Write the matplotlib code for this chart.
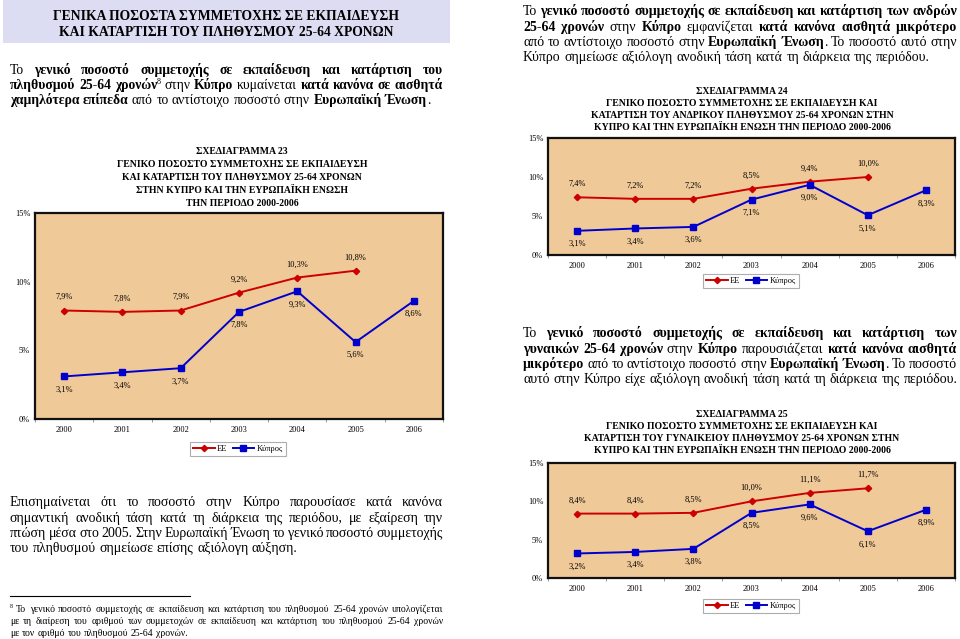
import matplotlib
matplotlib.use('Agg')
import matplotlib.pyplot as plt
from matplotlib.lines import Line2D
from matplotlib.patches import Rectangle

# ---------------- data ----------------
years = ['2000', '2001', '2002', '2003', '2004', '2005', '2006']
eu_total = [7.9, 7.8, 7.9, 9.2, 10.3, 10.8]
cy_total = [3.1, 3.4, 3.7, 7.8, 9.3, 5.6, 8.6]
eu_men = [7.4, 7.2, 7.2, 8.5, 9.4, 10.0]
cy_men = [3.1, 3.4, 3.6, 7.1, 9.0, 5.1, 8.3]
eu_women = [8.4, 8.4, 8.5, 10.0, 11.1, 11.7]
cy_women = [3.2, 3.4, 3.8, 8.5, 9.6, 6.1, 8.9]
yticks = [0, 5, 10, 15]
ytick_labels = ['0%', '5%', '10%', '15%']
legend_labels = ['ΕΕ', 'Κύπρος']

header_lines = ['ΓΕΝΙΚΑ ΠΟΣΟΣΤΑ ΣΥΜΜΕΤΟΧΗΣ ΣΕ ΕΚΠΑΙΔΕΥΣΗ',
                'ΚΑΙ ΚΑΤΑΡΤΙΣΗ ΤΟΥ ΠΛΗΘΥΣΜΟΥ 25-64 ΧΡΟΝΩΝ']
title23 = ['ΣΧΕΔΙΑΓΡΑΜΜΑ 23',
           'ΓΕΝΙΚΟ ΠΟΣΟΣΤΟ ΣΥΜΜΕΤΟΧΗΣ ΣΕ ΕΚΠΑΙΔΕΥΣΗ',
           'ΚΑΙ ΚΑΤΑΡΤΙΣΗ ΤΟΥ ΠΛΗΘΥΣΜΟΥ 25-64 ΧΡΟΝΩΝ',
           'ΣΤΗΝ ΚΥΠΡΟ ΚΑΙ ΤΗΝ ΕΥΡΩΠΑΪΚΗ ΕΝΩΣΗ',
           'ΤΗΝ ΠΕΡΙΟΔΟ 2000-2006']
title24 = ['ΣΧΕΔΙΑΓΡΑΜΜΑ 24',
           'ΓΕΝΙΚΟ ΠΟΣΟΣΤΟ ΣΥΜΜΕΤΟΧΗΣ ΣΕ ΕΚΠΑΙΔΕΥΣΗ ΚΑΙ',
           'ΚΑΤΑΡΤΙΣΗ ΤΟΥ ΑΝΔΡΙΚΟΥ ΠΛΗΘΥΣΜΟΥ 25-64 ΧΡΟΝΩΝ ΣΤΗΝ',
           'ΚΥΠΡΟ ΚΑΙ ΤΗΝ ΕΥΡΩΠΑΪΚΗ ΕΝΩΣΗ ΤΗΝ ΠΕΡΙΟΔΟ 2000-2006']
title25 = ['ΣΧΕΔΙΑΓΡΑΜΜΑ 25',
           'ΓΕΝΙΚΟ ΠΟΣΟΣΤΟ ΣΥΜΜΕΤΟΧΗΣ ΣΕ ΕΚΠΑΙΔΕΥΣΗ ΚΑΙ',
           'ΚΑΤΑΡΤΙΣΗ ΤΟΥ ΓΥΝΑΙΚΕΙΟΥ ΠΛΗΘΥΣΜΟΥ 25-64 ΧΡΟΝΩΝ ΣΤΗΝ',
           'ΚΥΠΡΟ ΚΑΙ ΤΗΝ ΕΥΡΩΠΑΪΚΗ ΕΝΩΣΗ ΤΗΝ ΠΕΡΙΟΔΟ 2000-2006']

para_left1 = [
    [('Το ', 'r'), ('γενικό ποσοστό συμμετοχής σε εκπαίδευση και κατάρτιση του', 'b')],
    [('πληθυσμού 25-64 χρονών', 'b'), ('8', 's'), (' στην ', 'r'), ('Κύπρο', 'b'),
     (' κυμαίνεται ', 'r'), ('κατά κανόνα σε αισθητά', 'b')],
    [('χαμηλότερα επίπεδα', 'b'), (' από το αντίστοιχο ποσοστό στην ', 'r'),
     ('Ευρωπαϊκή Ένωση', 'b'), ('.', 'r')],
]
para_left2 = [
    [('Επισημαίνεται ότι το ποσοστό στην Κύπρο παρουσίασε κατά κανόνα', 'r')],
    [('σημαντική ανοδική τάση κατά τη διάρκεια της περιόδου, με εξαίρεση την', 'r')],
    [('πτώση μέσα στο 2005. Στην Ευρωπαϊκή Ένωση το γενικό ποσοστό συμμετοχής', 'r')],
    [('του πληθυσμού σημείωσε επίσης αξιόλογη αύξηση.', 'r')],
]
footnote = [
    [('8', 's'), (' Το γενικό ποσοστό συμμετοχής σε εκπαίδευση και κατάρτιση του πληθυσμού 25-64 χρονών υπολογίζεται', 'r')],
    [('με τη διαίρεση του αριθμού των συμμετοχών σε εκπαίδευση και κατάρτιση του πληθυσμού 25-64 χρονών', 'r')],
    [('με τον αριθμό του πληθυσμού 25-64 χρονών.', 'r')],
]
para_right1 = [
    [('Το ', 'r'), ('γενικό ποσοστό συμμετοχής σε εκπαίδευση και κατάρτιση των ανδρών', 'b')],
    [('25-64 χρονών', 'b'), (' στην ', 'r'), ('Κύπρο', 'b'), (' εμφανίζεται ', 'r'),
     ('κατά κανόνα αισθητά μικρότερο', 'b')],
    [('από το αντίστοιχο ποσοστό στην ', 'r'), ('Ευρωπαϊκή Ένωση', 'b'),
     ('. Το ποσοστό αυτό στην', 'r')],
    [('Κύπρο σημείωσε αξιόλογη ανοδική τάση κατά τη διάρκεια της περιόδου.', 'r')],
]
para_right2 = [
    [('Το ', 'r'), ('γενικό ποσοστό συμμετοχής σε εκπαίδευση και κατάρτιση των', 'b')],
    [('γυναικών 25-64 χρονών', 'b'), (' στην ', 'r'), ('Κύπρο', 'b'), (' παρουσιάζεται ', 'r'),
     ('κατά κανόνα αισθητά', 'b')],
    [('μικρότερο', 'b'), (' από το αντίστοιχο ποσοστό στην ', 'r'), ('Ευρωπαϊκή Ένωση', 'b'),
     ('. Το ποσοστό', 'r')],
    [('αυτό στην Κύπρο είχε αξιόλογη ανοδική τάση κατά τη διάρκεια της περιόδου.', 'r')],
]

# ---------------- setup ----------------
W, H = 960, 639
plt.rcParams['font.family'] = ['Liberation Serif', 'DejaVu Serif']
fig = plt.figure(figsize=(W / 100, H / 100), dpi=100)
fig.patch.set_facecolor('white')
renderer = fig.canvas.get_renderer()

TAN = '#F0C998'
RED = '#CC0000'
BLUE = '#0000CC'


def fx(x):
    return x / W


def fy(y):
    return 1 - y / H


def measure(txt, size, weight='normal'):
    t = fig.text(0, 0, txt, fontsize=size, fontweight=weight)
    w = t.get_window_extent(renderer).width
    t.remove()
    return w


def parse(segs):
    words = []
    glue = False
    for text, sty in segs:
        parts = text.split(' ')
        for i, p in enumerate(parts):
            if i == 0 and glue and words:
                if p:
                    words[-1].append((p, sty))
            else:
                if p:
                    words.append([(p, sty)])
        glue = not text.endswith(' ')
    return words


def run_props(sty, size):
    if sty == 'b':
        return size, 'bold', 0.0
    if sty == 's':
        return size * 0.6, 'normal', size * 0.4 * 100 / 72
    return size, 'normal', 0.0


def draw_para(lines, x0, x1, baselines, size, justify_last=False):
    space = measure('a a', size) - measure('aa', size)
    for li, (segs, base) in enumerate(zip(lines, baselines)):
        words = parse(segs)
        widths = []
        for w in words:
            tot = 0
            for txt, sty in w:
                s, wt, _ = run_props(sty, size)
                tot += measure(txt, s, wt)
            widths.append(tot)
        last = (li == len(lines) - 1)
        if (not last or justify_last) and len(words) > 1:
            gap = (x1 - x0 - sum(widths)) / (len(words) - 1)
        else:
            gap = space
        x = x0
        for w in words:
            for txt, sty in w:
                s, wt, rise = run_props(sty, size)
                fig.text(fx(x), fy(base - rise), txt, fontsize=s, fontweight=wt,
                         ha='left', va='baseline', color='black')
                x += measure(txt, s, wt)
            x += gap


def draw_centered(lines, cx, baselines, size, weight='bold'):
    for txt, b in zip(lines, baselines):
        fig.text(fx(cx), fy(b), txt, fontsize=size, fontweight=weight,
                 ha='center', va='baseline', color='black')


def fmt(v):
    return ('%.1f%%' % v).replace('.', ',')


def draw_chart(box, eu, cy, legend_center):
    l, t, r, b = box
    ax = fig.add_axes([fx(l), fy(b), (r - l) / W, (b - t) / H])
    ax.set_facecolor(TAN)
    x_eu = list(range(len(eu)))
    x_cy = list(range(len(cy)))
    ax.plot(x_eu, eu, color=RED, lw=1.4, marker='D', ms=3.2, mec=RED, mfc=RED, zorder=3)
    ax.plot(x_cy, cy, color=BLUE, lw=1.4, marker='s', ms=4.8, mec=BLUE, mfc=BLUE, zorder=3)
    for xi, v in zip(x_eu, eu):
        ax.annotate(fmt(v), (xi, v), xytext=(0, 9.5), textcoords='offset points',
                    ha='center', va='center', fontsize=6)
    for xi, v in zip(x_cy, cy):
        ax.annotate(fmt(v), (xi, v), xytext=(0, -9.5), textcoords='offset points',
                    ha='center', va='center', fontsize=6)
    ax.set_xlim(-0.5, len(years) - 0.5)
    ax.set_ylim(0, 15)
    ax.set_yticks(yticks)
    ax.set_yticklabels(ytick_labels)
    ax.set_xticks(range(len(years)))
    ax.set_xticklabels(years)
    ax.set_xticks([i - 0.5 for i in range(len(years) + 1)], minor=True)
    ax.tick_params(axis='both', which='major', length=0, labelsize=6)
    ax.tick_params(axis='y', pad=3.5)
    ax.tick_params(axis='x', pad=5)
    ax.tick_params(axis='x', which='minor', length=2.5, color='#888888', width=0.6)
    ax.tick_params(axis='y', which='minor', length=0)
    for sp in ax.spines.values():
        sp.set_linewidth(1.6)
        sp.set_color('#111111')
    handles = [Line2D([], [], color=RED, lw=1.4, marker='D', ms=3.2),
               Line2D([], [], color=BLUE, lw=1.4, marker='s', ms=4.8)]
    leg = fig.legend(handles, legend_labels, loc='center',
                     bbox_to_anchor=(fx(legend_center[0]), fy(legend_center[1])),
                     ncol=2, fontsize=6, frameon=True, fancybox=False,
                     edgecolor='#9a9a9a', handlelength=2.6, handletextpad=0.3,
                     columnspacing=0.6, borderpad=0.35)
    leg.get_frame().set_linewidth(0.8)
    return ax


# ---------------- left column ----------------
fig.patches.append(Rectangle((fx(3), fy(43)), 447 / W, 43 / H, transform=fig.transFigure,
                             facecolor='#DCDCF2', edgecolor='none', zorder=0))
draw_centered(header_lines, 226, [20, 36], 9.8)
draw_para(para_left1, 10, 443, [74, 89, 104], 9.8)
draw_centered(title23, 242, [154, 167, 180, 193, 206], 7.0)
draw_chart((35, 213, 443, 419), eu_total, cy_total, (238, 449))
draw_para(para_left2, 10, 443, [506, 522, 537, 552], 10.0)
fig.add_artist(Line2D([fx(10), fx(190)], [fy(596), fy(596)], color='black', lw=0.8,
                      transform=fig.transFigure))
draw_para(footnote, 10, 443, [612, 624, 636], 7.0)

# ---------------- right column ----------------
draw_para(para_right1, 523, 957, [15, 31, 46, 61], 10.0)
draw_centered(title24, 742, [94, 106, 118, 130], 7.0)
draw_chart((548, 138, 955, 255), eu_men, cy_men, (751, 281))
draw_para(para_right2, 523, 957, [337, 353, 368, 383], 10.0)
draw_centered(title25, 742, [417, 429, 441, 453], 7.0)
draw_chart((548, 463, 955, 578), eu_women, cy_women, (751, 606))

fig.savefig('out.png', dpi=100, facecolor='white')
